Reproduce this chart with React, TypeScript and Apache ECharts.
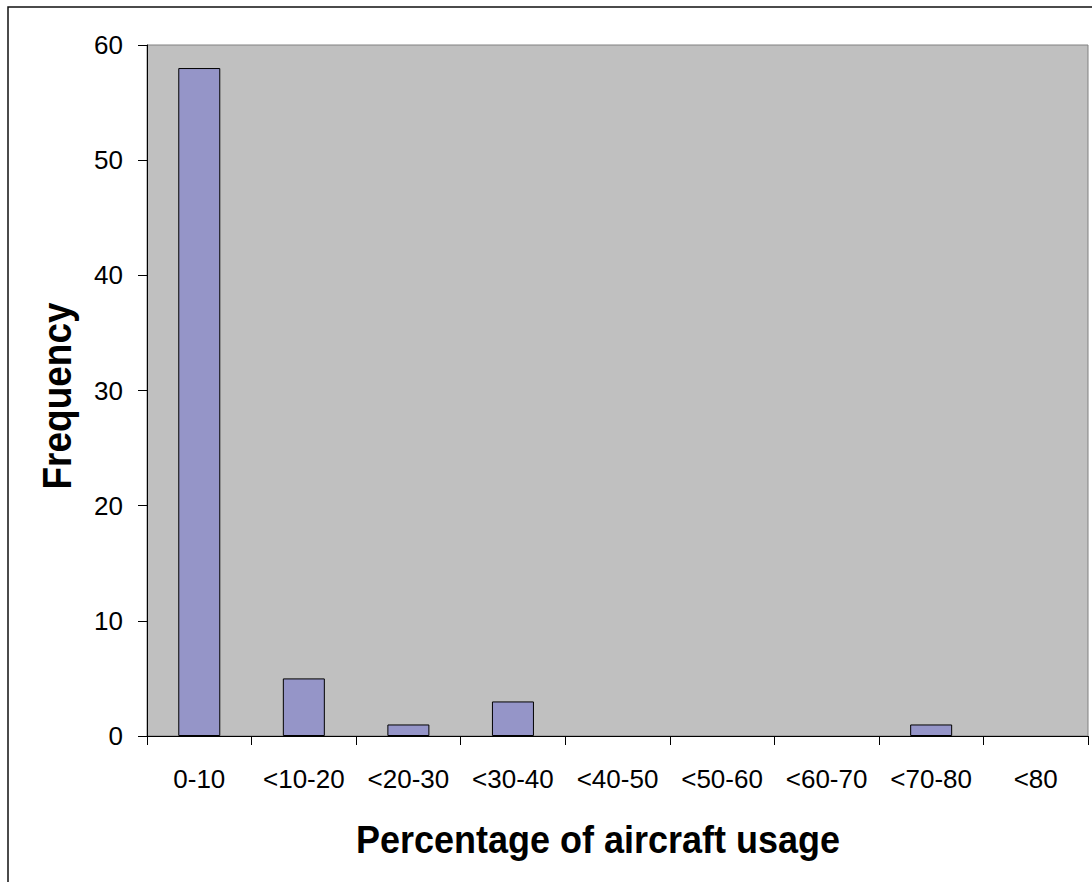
import React, { useEffect, useRef } from "react";
import * as echarts from "echarts";

// Usage bands and how many aircraft fall in each
const categories = ["0-10", "<10-20", "<20-30", "<30-40", "<40-50", "<50-60", "<60-70", "<70-80", "<80"];
const frequency = [58, 5, 1, 3, 0, 0, 0, 1, 0];

const yMin = 0;
const yMax = 60;
const yStep = 10;

const xTitle = "Percentage of aircraft usage";
const yTitle = "Frequency";

const FONT = "'Liberation Sans', Arial, sans-serif";

export default function App() {
  const ref = useRef<HTMLDivElement>(null);

  useEffect(() => {
    if (!ref.current) return;
    const chart = echarts.init(ref.current, null, { renderer: "svg" });
    // empty bands get no outline so nothing shows on the baseline
    const barData = frequency.map((v) =>
      v === 0 ? { value: v, itemStyle: { borderWidth: 0 } } : { value: v }
    );
    chart.setOption({
      animation: false,
      backgroundColor: "#ffffff",
      grid: {
        left: 147,
        top: 45,
        right: 4,
        bottom: 146,
        show: true,
        backgroundColor: "#C0C0C0",
        borderColor: "#808080",
        borderWidth: 1,
      },
      xAxis: {
        type: "category",
        data: categories,
        boundaryGap: true,
        axisLine: { show: true, lineStyle: { color: "#000", width: 1 } },
        axisTick: { show: true, length: 9, alignWithLabel: false, lineStyle: { color: "#000" } },
        axisLabel: {
          color: "#000",
          fontFamily: FONT,
          fontSize: 26,
          margin: 30,
          interval: 0,
        },
        splitLine: { show: false },
      },
      yAxis: {
        type: "value",
        min: yMin,
        max: yMax,
        interval: yStep,
        axisLine: { show: true, lineStyle: { color: "#000", width: 1 } },
        axisTick: { show: true, length: 9, inside: false, lineStyle: { color: "#000" } },
        axisLabel: {
          color: "#000",
          fontFamily: FONT,
          fontSize: 26,
          margin: 24,
        },
        splitLine: { show: false },
      },
      series: [
        {
          type: "bar",
          data: barData,
          barWidth: 42,
          itemStyle: {
            color: "#9595C8",
            borderColor: "#000",
            borderWidth: 1,
          },
        },
      ],
      graphic: [
        {
          type: "rect",
          silent: true,
          shape: { x: 8, y: 7, width: 1200, height: 1000 },
          style: { fill: "none", stroke: "#111", lineWidth: 1.5 },
          z: 100,
        },
        {
          type: "text",
          x: 598,
          y: 840,
          scaleY: 1.08,
          style: {
            text: xTitle,
            font: `bold 36px ${FONT}`,
            fill: "#000",
            align: "center",
            verticalAlign: "middle",
          },
        },
        {
          type: "text",
          x: 57,
          y: 396,
          rotation: Math.PI / 2,
          scaleY: 1.08,
          style: {
            text: yTitle,
            font: `bold 37px ${FONT}`,
            fill: "#000",
            align: "center",
            verticalAlign: "middle",
          },
        },
      ],
    });
    return () => chart.dispose();
  }, []);

  return (
    <div
      ref={ref}
      style={{ position: "fixed", left: 0, top: 0, width: 1092, height: 882 }}
    />
  );
}
